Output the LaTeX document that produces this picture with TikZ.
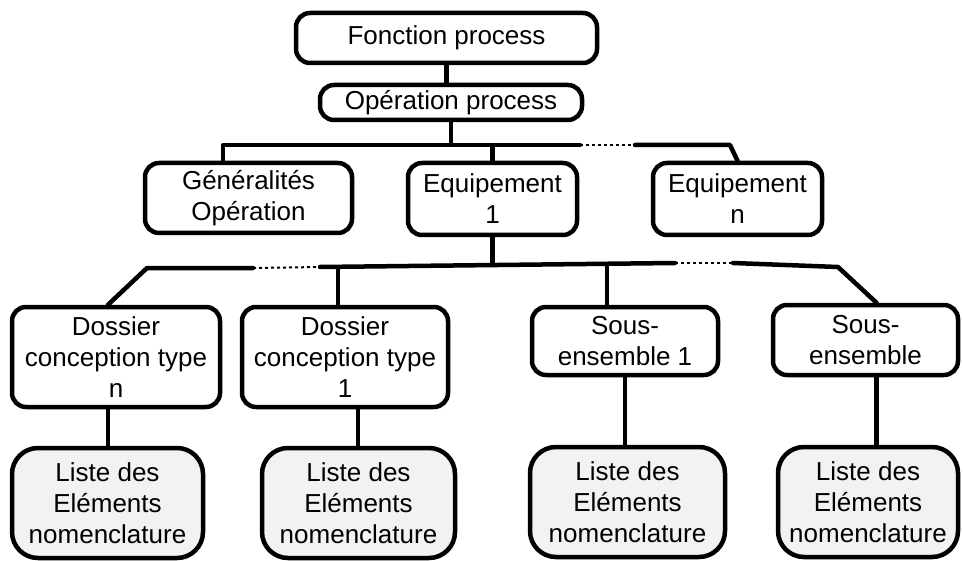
\documentclass[tikz,border=0pt]{standalone}
\usepackage{fontspec}
\setmainfont{Liberation Sans}
\usetikzlibrary{positioning}
\definecolor{listeGray}{RGB}{242,242,242}
\tikzstyle{plan} = [x = 1pt, y = -1pt]
\tikzstyle{boxStyle} = [draw=black, fill=white, line width=4.5pt, rounded corners=14pt, align=center, inner sep=0pt, font=\fontsize{26}{31}\selectfont]
\tikzstyle{listeStyle} = [boxStyle, fill=listeGray, rounded corners=26pt, minimum height=110pt]
\tikzstyle{barLine} = [line width=4.5pt, line cap=round, line join=round]
\tikzstyle{linkLine} = [line width=4.5pt]
\tikzstyle{dotLine} = [line width=2pt, dash pattern=on 3pt off 3pt]
\newcommand{\boxNode}[5]{\node [boxStyle, minimum width=#3, minimum height=#4] (#1) at (#2) {#5};}
\newcommand{\listeNode}[3]{\node [listeStyle, minimum width=#3] (#1) at (#2) {Liste des\\Eléments\\nomenclature};}

\begin{document}
\begin{tikzpicture}[plan]
  \useasboundingbox (0,0) rectangle (963,561);

  % top of the tree
  \boxNode{fonc}{446.5,38}{301pt}{50pt}{Fonction process}
  \boxNode{oper}{451,102.5}{262pt}{35pt}{Opération process}

  \boxNode{gen}{248.5,198}{207pt}{70pt}{Généralités\\Opération}
  \boxNode{equA}{492.5,199}{169pt}{72pt}{Equipement\\1}
  \boxNode{equN}{737.5,199}{169pt}{72pt}{Equipement\\n}

  % second level
  \boxNode{dosN}{116,357}{208pt}{100pt}{Dossier\\conception type\\n}
  \boxNode{dosA}{345,357}{206pt}{100pt}{Dossier\\conception type\\1}
  \boxNode{sousA}{625,341}{186pt}{68pt}{Sous-\\ensemble 1}
  \boxNode{sousN}{865.5,340}{185pt}{70pt}{Sous-\\ensemble}

  \listeNode{listeA}{107.5,503}{191pt}
  \listeNode{listeB}{358.5,503}{193pt}
  \listeNode{listeC}{627.5,502}{195pt}
  \listeNode{listeD}{868,502}{180pt}

  % upper bar
  \coordinate (barA) at (223,145);
  \coordinate (barB) at (580,145);
  \coordinate (barC) at (635,145);
  \coordinate (barD) at (730,145);
  \draw [linkLine] (fonc.south) -- (fonc.south |- oper.north);
  \draw [linkLine] (oper.south) -- (oper.south |- barA);
  \draw [barLine] (gen.north -| barA) -- (barA) -- (barB);
  \draw [dotLine] (barB) -- (barC);
  \draw [barLine] (barC) -- (barD) -- (equN.north);
  \draw [linkLine] (equA.north) -- (equA.north |- barA);

  % lower bar
  \coordinate (lowA) at (147,268);
  \coordinate (lowB) at (253,268);
  \coordinate (lowC) at (320,267);
  \coordinate (lowD) at (675,263);
  \coordinate (lowE) at (733,263);
  \coordinate (lowF) at (838,267);
  \draw [barLine] ([xshift=-8pt]dosN.north) -- (lowA) -- (lowB);
  \draw [dotLine] (lowB) -- (lowC);
  \draw [barLine] (lowC) -- (lowD);
  \draw [dotLine] (lowD) -- (lowE);
  \draw [barLine] (lowE) -- (lowF) -- ([xshift=11pt]sousN.north);
  \draw [linkLine] (equA.south) -- ++(0,28);
  \draw [linkLine] ([xshift=-7pt]dosA.north) -- ++(0,-40);
  \draw [linkLine] ([xshift=-18pt]sousA.north) -- ++(0,-43);

  % down to the lists
  \draw [linkLine] ([xshift=-8pt]dosN.south) -- ([xshift=-8pt]dosN.south |- listeA.north);
  \draw [linkLine] ([xshift=13pt]dosA.south) -- ([xshift=13pt]dosA.south |- listeB.north);
  \draw [linkLine] (sousA.south) -- (sousA.south |- listeC.north);
  \draw [linkLine] ([xshift=11pt]sousN.south) -- ([xshift=11pt]sousN.south |- listeD.north);
\end{tikzpicture}
\end{document}
